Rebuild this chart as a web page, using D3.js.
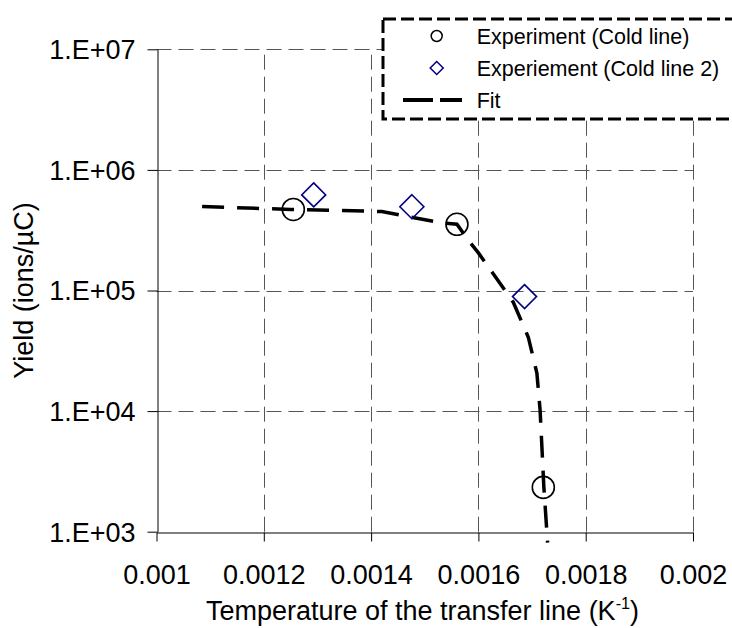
<!DOCTYPE html>
<html>
<head>
<meta charset="utf-8">
<script src="https://cdn.jsdelivr.net/npm/d3@7"></script>
<style>
  html, body { margin: 0; padding: 0; background: #fff; }
  svg { display: block; font-family: "Liberation Sans", Arial, sans-serif; }
</style>
</head>
<body>
<svg id="chart" width="732" height="628"></svg>
<script>
// Experiment (Cold line): inverse temperature (1/K) and yield (ions/µC)
const coldX = [0.001255, 0.00156, 0.001721];
const coldY = [4.7e5, 3.54e5, 2.33e3];

// Experiement (Cold line 2)
const cold2X = [0.001293, 0.001476, 0.001686];
const cold2Y = [6.2e5, 4.95e5, 8.9e4];

// Fit curve
const fitX = [0.001085, 0.00125, 0.00142, 0.001473, 0.001534, 0.00156, 0.001585, 0.0016,
              0.001627, 0.001665, 0.001693, 0.001709, 0.001715, 0.001722, 0.001729];
const fitY = [4.97e5, 4.7e5, 4.52e5, 4.07e5, 3.63e5, 3.54e5, 2.48e5, 2.05e5,
              1.39e5, 8.0e4, 4.1e4, 2.07e4, 1.02e4, 2.35e3, 8.1e2];

// Axis ticks and labels
const xTicks = [0.001, 0.0012, 0.0014, 0.0016, 0.0018, 0.002];
const xTickLabels = ["0.001", "0.0012", "0.0014", "0.0016", "0.0018", "0.002"];
const yTicks = [1e3, 1e4, 1e5, 1e6, 1e7];
const yTickLabels = ["1.E+03", "1.E+04", "1.E+05", "1.E+06", "1.E+07"];

const legendLabels = ["Experiment (Cold line)", "Experiement (Cold line 2)", "Fit"];

const svg = d3.select("#chart");
const plotLeft = 156.5, plotRight = 693, plotTop = 49.3, plotBottom = 531.7;

const x = d3.scaleLinear().domain([0.001, 0.002]).range([plotLeft, plotRight]);
const y = d3.scaleLog().domain([1e3, 1e7]).range([plotBottom, plotTop]);

const fontSize = 27;

// Grid lines
const grid = svg.append("g").attr("stroke", "#555").attr("stroke-width", 1)
  .attr("stroke-dasharray", "15,7").attr("fill", "none");
grid.selectAll("line.v").data(xTicks.slice(1)).join("line")
  .attr("class", "v")
  .attr("x1", d => Math.round(x(d)) + 0.5).attr("x2", d => Math.round(x(d)) + 0.5)
  .attr("y1", plotBottom).attr("y2", plotTop);
grid.selectAll("line.h").data(yTicks.slice(1)).join("line")
  .attr("class", "h")
  .attr("x1", plotLeft).attr("x2", plotRight)
  .attr("y1", d => Math.round(y(d)) + 0.5).attr("y2", d => Math.round(y(d)) + 0.5);

// Axes
const xAxis = d3.axisBottom(x).tickValues(xTicks)
  .tickFormat((d, i) => xTickLabels[i]).tickSize(9).tickSizeOuter(0);
const gx = svg.append("g").attr("transform", `translate(0,${Math.round(plotBottom) + 0.5})`).call(xAxis);
gx.selectAll("text").attr("y", 51.5).attr("dy", 0)
  .attr("font-size", fontSize).attr("font-family", "Liberation Sans, Arial, sans-serif").attr("fill", "#000");

const yAxis = d3.axisLeft(y).tickValues(yTicks)
  .tickFormat((d, i) => yTickLabels[i]).tickSize(10).tickSizeOuter(0);
const gy = svg.append("g").attr("transform", `translate(${Math.round(plotLeft) + 0.5},0)`).call(yAxis);
gy.selectAll("text").attr("x", -22).attr("dy", "0.35em")
  .attr("font-size", fontSize).attr("font-family", "Liberation Sans, Arial, sans-serif").attr("fill", "#000");

svg.selectAll(".domain, .tick line").attr("stroke", "#000").attr("stroke-width", 1);

// Axis titles
const xTitle = svg.append("text")
  .attr("x", (205 + 640) / 2).attr("y", 620)
  .attr("text-anchor", "middle").attr("font-size", fontSize).attr("fill", "#000");
xTitle.append("tspan").text("Temperature of the transfer line (K");
xTitle.append("tspan").attr("font-size", fontSize * 0.6).attr("dy", -11).text("-1");
xTitle.append("tspan").attr("dy", 11).text(")");

svg.append("text")
  .attr("transform", `translate(33,${(plotTop + plotBottom) / 2}) rotate(-90)`)
  .attr("text-anchor", "middle").attr("font-size", fontSize).attr("fill", "#000")
  .text("Yield (ions/µC)");

// Fit curve
const fitData = fitX.map((v, i) => [v, fitY[i]]);
const line = d3.line().x(d => x(d[0])).y(d => y(d[1]));
svg.append("path").datum(fitData)
  .attr("d", line).attr("fill", "none").attr("stroke", "#000")
  .attr("stroke-width", 3.5).attr("stroke-dasharray", "22,13");

// Markers
const diamond = s => `M0,${-s}L${s},0L0,${s}L${-s},0Z`;

svg.append("g").selectAll("circle").data(coldX.map((v, i) => [v, coldY[i]])).join("circle")
  .attr("cx", d => x(d[0])).attr("cy", d => y(d[1])).attr("r", 11)
  .attr("fill", "none").attr("stroke", "#000").attr("stroke-width", 1.6);

svg.append("g").selectAll("path").data(cold2X.map((v, i) => [v, cold2Y[i]])).join("path")
  .attr("transform", d => `translate(${x(d[0])},${y(d[1])})`)
  .attr("d", diamond(12)).attr("fill", "none").attr("stroke", "#000080").attr("stroke-width", 1.6);

// Legend
const lg = svg.append("g");
lg.append("rect").attr("x", 383).attr("y", 19).attr("width", 420).attr("height", 100)
  .attr("fill", "#fff").attr("stroke", "#000").attr("stroke-width", 3)
  .attr("stroke-dasharray", "13,5");

const rowY = [36, 68, 100];
lg.append("circle").attr("cx", 436.7).attr("cy", rowY[0]).attr("r", 5.5)
  .attr("fill", "none").attr("stroke", "#000").attr("stroke-width", 1.5);
lg.append("path").attr("transform", `translate(436.7,${rowY[1]})`)
  .attr("d", diamond(6.5)).attr("fill", "none").attr("stroke", "#000080").attr("stroke-width", 1.5);
lg.append("line").attr("x1", 403).attr("x2", 462).attr("y1", rowY[2]).attr("y2", rowY[2])
  .attr("stroke", "#000").attr("stroke-width", 4).attr("stroke-dasharray", "30,7");

lg.selectAll("text").data(legendLabels).join("text")
  .attr("x", 476.7).attr("y", (d, i) => rowY[i] + 7.5)
  .attr("font-size", 21.5).attr("fill", "#000").text(d => d);
</script>
</body>
</html>
